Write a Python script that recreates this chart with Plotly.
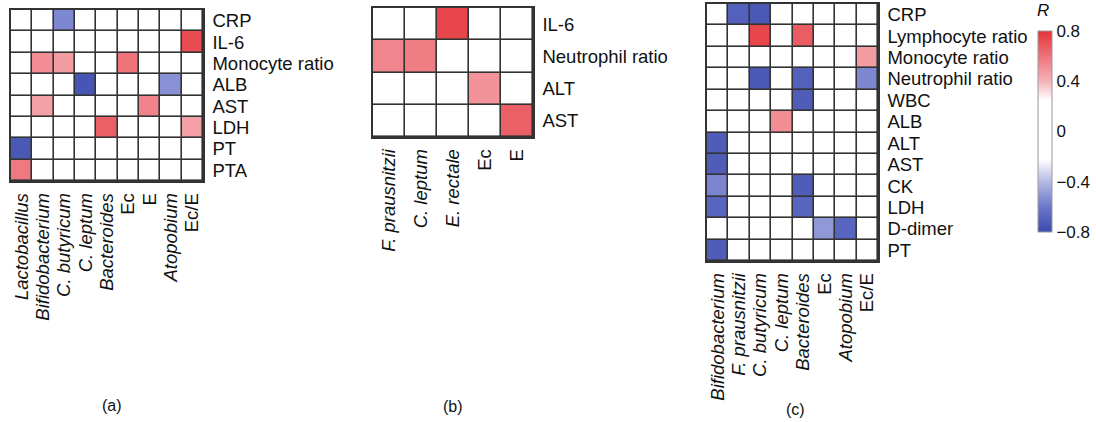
import plotly.graph_objects as go

# ---------------- data ----------------
a_cols = ["<i>Lactobacillus</i>", "<i>Bifidobacterium</i>", "<i>C. butyricum</i>", "<i>C. leptum</i>",
          "<i>Bacteroides</i>", "Ec", "E", "<i>Atopobium</i>", "Ec/E"]
a_rows = ["CRP", "IL-6", "Monocyte ratio", "ALB", "AST", "LDH", "PT", "PTA"]
a_CRP = [0, 0, -0.55, 0, 0, 0, 0, 0, 0]
a_IL6 = [0, 0, 0, 0, 0, 0, 0, 0, 0.72]
a_Mono = [0, 0.52, 0.47, 0, 0, 0.6, 0, 0, 0]
a_ALB = [0, 0, 0, -0.75, 0, 0, 0, -0.52, 0]
a_AST = [0, 0.46, 0, 0, 0, 0, 0.55, 0, 0]
a_LDH = [0, 0, 0, 0, 0.66, 0, 0, 0, 0.46]
a_PT = [-0.74, 0, 0, 0, 0, 0, 0, 0, 0]
a_PTA = [0.58, 0, 0, 0, 0, 0, 0, 0, 0]

b_cols = ["<i>F. prausnitzii</i>", "<i>C. leptum</i>", "<i>E. rectale</i>", "Ec", "E"]
b_rows = ["IL-6", "Neutrophil ratio", "ALT", "AST"]
b_IL6 = [0, 0, 0.74, 0, 0]
b_Neut = [0.54, 0.57, 0, 0, 0]
b_ALT = [0, 0, 0, 0.5, 0]
b_AST = [0, 0, 0, 0, 0.66]

c_cols = ["<i>Bifidobacterium</i>", "<i>F. prausnitzii</i>", "<i>C. butyricum</i>", "<i>C. leptum</i>",
          "<i>Bacteroides</i>", "Ec", "<i>Atopobium</i>", "Ec/E"]
c_rows = ["CRP", "Lymphocyte ratio", "Monocyte ratio", "Neutrophil ratio", "WBC", "ALB",
          "ALT", "AST", "CK", "LDH", "D-dimer", "PT"]
c_CRP = [0, -0.7, -0.74, 0, 0, 0, 0, 0]
c_Lymph = [0, 0, 0.74, 0, 0.67, 0, 0, 0]
c_Mono = [0, 0, 0, 0, 0, 0, 0, 0.47]
c_Neut = [0, 0, -0.74, 0, -0.7, 0, 0, -0.55]
c_WBC = [0, 0, 0, 0, -0.72, 0, 0, 0]
c_ALB = [0, 0, 0, 0.52, 0, 0, 0, 0]
c_ALT = [-0.72, 0, 0, 0, 0, 0, 0, 0]
c_AST = [-0.72, 0, 0, 0, 0, 0, 0, 0]
c_CK = [-0.56, 0, 0, 0, -0.72, 0, 0, 0]
c_LDH = [-0.68, 0, 0, 0, -0.68, 0, 0, 0]
c_Ddim = [0, 0, 0, 0, 0, -0.5, -0.68, 0]
c_PT = [-0.72, 0, 0, 0, 0, 0, 0, 0]

cbar_vals = [-0.8, -0.4, 0, 0.4, 0.8]
cbar_text = ["\u22120.8", "\u22120.4", "0", "0.4", "0.8"]

# ---------------- figure ----------------
W, H = 1096, 422
FONT = "Liberation Sans, Arial, sans-serif"
GRID = "#333333"
FS = 18.5

def px(x):
    return x / W

def py(y):
    return 1 - y / H

fig = go.Figure()

panels = [
    (a_cols, a_rows, [a_CRP, a_IL6, a_Mono, a_ALB, a_AST, a_LDH, a_PT, a_PTA], "x", "y", (11, 203), (10, 181)),
    (b_cols, b_rows, [b_IL6, b_Neut, b_ALT, b_AST], "x2", "y2", (373, 533), (8, 137)),
    (c_cols, c_rows, [c_CRP, c_Lymph, c_Mono, c_Neut, c_WBC, c_ALB, c_ALT, c_AST, c_CK, c_LDH, c_Ddim, c_PT],
     "x3", "y3", (707, 878), (4, 261)),
]

for i, (cols, rows, z, xa, ya, xr, yr) in enumerate(panels):
    fig.add_trace(go.Heatmap(
        z=z, x=cols, y=rows, xaxis=xa, yaxis=ya, coloraxis="coloraxis",
        xgap=1.6, ygap=1.6, hoverongaps=False,
    ))
    sfx = "" if i == 0 else str(i + 1)
    fig.layout["xaxis" + sfx] = dict(
        domain=[px(xr[0]), px(xr[1])], anchor="y" + sfx, tickangle=-90,
        tickmode="array", tickvals=cols, ticktext=cols,
        showgrid=False, zeroline=False, showline=True, mirror=True, automargin=False,
        linecolor=GRID, linewidth=1.5, ticks="", ticklabelstandoff=3,
        tickfont=dict(family=FONT, size=FS, color="#111"),
    )
    fig.layout["yaxis" + sfx] = dict(
        domain=[py(yr[1]), py(yr[0])], anchor="x" + sfx, side="right", automargin=False,
        tickmode="array", tickvals=rows, ticktext=rows,
        autorange="reversed", showgrid=False, zeroline=False, showline=True,
        mirror=True, linecolor=GRID, linewidth=1.5, ticks="", ticklabelstandoff=4,
        tickfont=dict(family=FONT, size=FS, color="#111"),
    )

fig.update_layout(
    width=W, height=H,
    margin=dict(l=0, r=0, t=0, b=0, autoexpand=False),
    paper_bgcolor="white", plot_bgcolor=GRID,
    font=dict(family=FONT, color="#111"),
    coloraxis=dict(
        cmin=-0.8, cmax=0.8,
        colorscale=[
            [0.0, "#3B4BAE"], [0.125, "#6C77C9"], [0.25, "#B3B9E5"], [0.36, "#FFFFFF"],
            [0.655, "#FFFFFF"], [0.75, "#F5B3B8"], [0.875, "#EE737B"], [1.0, "#E43237"],
        ],
        colorbar=dict(
            x=px(1038), xanchor="left", y=py(131.5), yanchor="middle",
            len=201, lenmode="pixels", thickness=14, thicknessmode="pixels",
            xpad=0, ypad=0,
            tickvals=cbar_vals, ticktext=cbar_text, ticks="",
            outlinewidth=1, outlinecolor="#999999",
            tickfont=dict(family=FONT, size=17, color="#111"),
        ),
    ),
    showlegend=False,
)

fig.add_annotation(x=px(1043), y=py(11), xref="paper", yref="paper", text="<i>R</i>",
                   xanchor="center", yanchor="middle",
                   showarrow=False, font=dict(family=FONT, size=17, color="#111"))
for lab, x, y in [("(a)", 112, 405), ("(b)", 453, 406), ("(c)", 795, 409)]:
    fig.add_annotation(x=px(x), y=py(y), xref="paper", yref="paper", text=lab,
                       xanchor="center", yanchor="middle",
                       showarrow=False, font=dict(family=FONT, size=16, color="#111"))

fig.write_html("out.html", config={"displayModeBar": False},
               post_script="document.body.style.margin='0';document.body.style.overflow='hidden';")
